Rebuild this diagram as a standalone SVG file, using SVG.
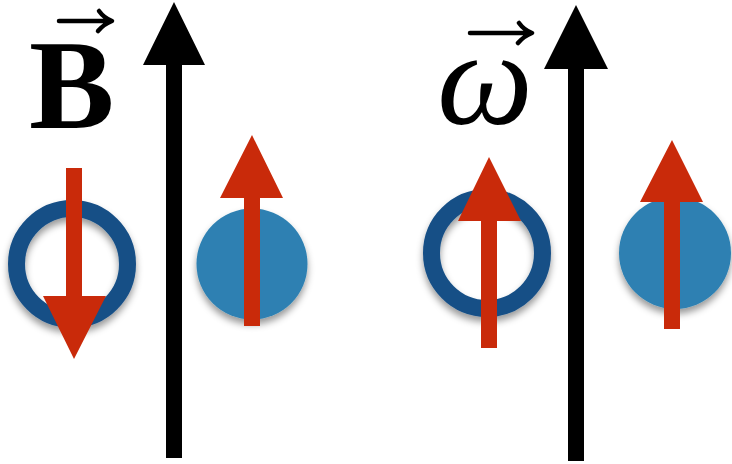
<svg xmlns="http://www.w3.org/2000/svg" width="732" height="464" viewBox="0 0 732 464">
<style>
.ring{fill:none;stroke:#164f86;stroke-width:17}
.disc{fill:#2d80b2}
.red{fill:#c92a0a}
.blk{fill:#000}
.vec{fill:none;stroke:#000;stroke-width:4.5;stroke-linecap:round;stroke-linejoin:round}
.lbl{font-family:"Liberation Serif","DejaVu Serif",serif;fill:#000}
</style>
<defs>
<filter id="sh" x="-30%" y="-30%" width="160%" height="170%">
<feDropShadow dx="0" dy="5" stdDeviation="3.5" flood-color="#000" flood-opacity="0.4"/>
</filter>
</defs>
<g id="label-B">
<text class="lbl" x="29" y="128" font-size="128" font-weight="bold">B</text>
<path class="vec" d="M59 21 H111 M99 11 Q104 18 112 21 Q104 24 98 31"/>
</g>
<g id="label-omega">
<text class="lbl" x="437" y="124" font-size="136" font-style="italic">ω</text>
<path class="vec" d="M470 33 H531 M519 23 Q524 30 532 33 Q524 36 518 43"/>
</g>
<g id="left-ring">
<circle class="ring" cx="72" cy="264" r="55.5" filter="url(#sh)"/>
</g>
<g id="left-disc">
<circle class="disc" cx="252" cy="264" r="55.5" filter="url(#sh)"/>
</g>
<g id="right-ring">
<circle class="ring" cx="487" cy="253" r="55.5" filter="url(#sh)"/>
</g>
<g id="right-disc">
<circle class="disc" cx="675" cy="253" r="56" filter="url(#sh)"/>
</g>
<g id="connectors">
<polygon id="field-B" class="blk" points="174,2 205,65 182,65 182,458 166,458 166,65 143,65"/>
<polygon id="field-omega" class="blk" points="576,5 608,69 584,69 584,461 568,461 568,69 544,69"/>
<polygon id="spin-1" class="red" points="66,168 82,168 82,296 106,296 74,359 43,296 66,296"/>
<polygon id="spin-2" class="red" points="252,135 283,198 260,198 260,326 244,326 244,198 220,198"/>
<polygon id="spin-3" class="red" points="489,157 521,221 497,221 497,348 481,348 481,221 458,221"/>
<polygon id="spin-4" class="red" points="672,140 703,202 680,202 680,329 664,329 664,202 640,202"/>
</g>
</svg>
